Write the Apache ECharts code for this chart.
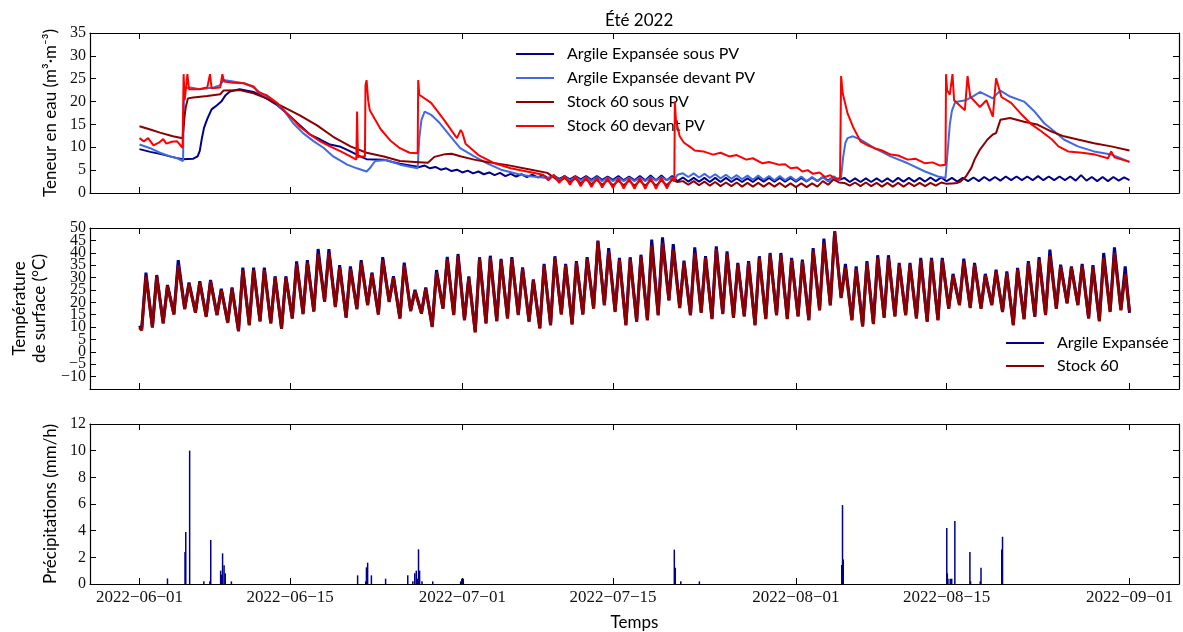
<!DOCTYPE html>
<html><head><meta charset="utf-8">
<script src="https://cdn.jsdelivr.net/npm/echarts@6/dist/echarts.min.js"></script>
<style>html,body{margin:0;padding:0;background:#fff}#c{width:1183px;height:632px}</style>
</head><body><div id="c"></div>
<script>
// x = days since 2022-06-01 00:00
const tickDays = [0, 14, 30, 44, 61, 75, 92];
const tickLabels = ['2022\u221206\u221201','2022\u221206\u221215','2022\u221207\u221201','2022\u221207\u221215','2022\u221208\u221201','2022\u221208\u221215','2022\u221209\u221201'];
const tempTicksA = [-10, 0, 10, 20, 30, 40, 50];
const tempTicksB = [-5, 5, 15, 25, 35, 45];

// Teneur en eau (m3.m-3)
const aeSousPV = [[0,9.6],[1,9.0],[2,8.5],[3,7.9],[4,7.4],[5,7.5],[5.4,8.0],[5.6,9.2],[5.8,12.0],[6.0,14.3],[6.3,16.2],[6.7,18.3],[7.2,19.2],[7.6,20.0],[8.0,21.4],[8.4,22.2],[9.3,22.7],[10.6,22.1],[11.8,20.7],[12.8,19.2],[13.7,17.4],[14.9,14.8],[15.9,12.7],[16.8,11.7],[17.7,10.6],[18.7,10.1],[19.6,9.1],[20.5,8.0],[21.1,7.4],[22.7,7.3],[23.5,6.8],[24.2,6.4],[25,6.1],[26,5.7],[26.5,6.0],[27,5.4],[27.5,5.7],[28,5.1],[28.5,5.4],[29,4.8],[29.5,5.1],[30,4.5],[30.5,4.9],[31,4.3],[31.5,4.7],[32,4.1],[32.5,4.5],[33,3.9],[33.5,4.4],[34,3.7],[34.5,4.2],[35,3.6],[35.5,4.1],[36,3.5],[36.5,4.0],[37,3.4],[37.5,3.9],[38,3.2],[38.5,3.8],[39,3.1],[39.5,3.7],[40,3.0],[40.5,3.7],[41,3.0],[41.5,3.7],[42,2.9],[42.5,3.7],[43,2.9],[43.5,3.6],[44,2.9],[44.5,3.7],[45,2.8],[45.5,3.6],[46,2.8],[46.5,3.7],[47,2.8],[47.5,3.8],[48,2.8],[48.5,3.8],[49,2.8],[49.5,3.7],[50,2.6],[50.5,3.4],[51,2.5],[51.5,3.3],[52,2.5],[52.5,3.3],[53,2.4],[53.5,3.3],[54,2.4],[54.5,3.3],[55,2.4],[55.5,3.2],[56,2.4],[56.5,3.2],[57,2.4],[57.5,3.3],[58,2.5],[58.5,3.3],[59,2.5],[59.5,3.3],[60,2.5],[60.5,3.3],[61,2.5],[61.5,3.3],[62,2.5],[62.5,3.4],[63,2.6],[63.5,3.5],[64,2.7],[64.5,3.6],[65,2.8],[65.5,3.3],[66,2.4],[66.5,3.2],[67,2.4],[67.5,3.2],[68,2.4],[68.5,3.2],[69,2.4],[69.5,3.2],[70,2.4],[70.5,3.3],[71,2.5],[71.5,3.3],[72,2.5],[72.5,3.3],[73,2.5],[73.5,3.4],[74,2.6],[74.5,3.4],[75,2.6],[75.5,3.3],[76,2.5],[76.5,3.3],[77,2.6],[77.5,3.4],[78,2.6],[78.5,3.5],[79,2.7],[79.5,3.5],[80,2.7],[80.5,3.6],[81,2.8],[81.5,3.6],[82,2.8],[82.5,3.6],[83,2.8],[83.5,3.7],[84,2.8],[84.5,3.6],[85,2.8],[85.5,3.6],[86,2.8],[86.5,3.6],[87,2.7],[87.5,3.9],[88,2.7],[88.5,3.5],[89,2.6],[89.5,3.5],[90,2.6],[90.5,3.5],[91,2.7],[91.5,3.4],[92,2.8]];
const aeDevantPV = [[0,10.6],[1,9.8],[1.9,8.8],[3,7.9],[3.5,7.6],[4.05,7.0],[4.12,20.0],[4.2,22.9],[4.7,23.1],[5.6,22.7],[6.9,23.1],[7.5,23.6],[7.8,24.7],[8.7,24.4],[9.7,24.0],[10.6,23.1],[11.5,21.4],[12.5,20.0],[13.4,18.1],[14.3,15.2],[15.2,13.1],[16.2,11.3],[17.1,9.9],[18.0,8.0],[19.3,6.2],[20.2,5.4],[21.1,4.7],[21.4,5.4],[21.9,7.0],[23.0,7.2],[24.2,6.2],[25.0,5.8],[25.85,5.4],[26.0,12.0],[26.2,16.0],[26.5,17.8],[27.1,17.1],[27.9,15.3],[28.9,12.4],[29.8,9.8],[31.1,8.0],[32.3,6.5],[33.6,5.1],[35.4,4.0],[36.5,3.6],[37.9,3.3],[38.5,3.8],[39,2.8],[39.5,3.6],[40,2.7],[40.5,3.5],[41,2.7],[41.5,3.5],[42,2.6],[42.5,3.5],[43,2.6],[43.5,3.4],[44,2.6],[44.5,3.4],[45,2.6],[45.5,3.4],[46,2.6],[46.5,3.4],[47,2.6],[47.5,3.5],[48,2.7],[48.5,3.5],[49,2.8],[49.5,3.4],[49.75,3.0],[50,4.0],[50.5,4.3],[51,3.5],[51.5,4.3],[52,3.4],[52.5,4.2],[53,3.3],[53.5,4.1],[54,3.2],[54.5,4.0],[55,3.1],[55.5,3.9],[56,3.0],[56.5,3.8],[57,2.9],[57.5,3.8],[58,2.9],[58.5,3.7],[59,2.8],[59.5,3.7],[60,2.8],[60.5,3.6],[61,2.7],[61.5,3.6],[62,2.6],[62.5,3.5],[63,2.6],[63.5,3.5],[64,2.5],[64.5,3.6],[65,2.8],[65.2,3.5],[65.4,8.0],[65.6,11.0],[65.8,12.0],[66.3,12.4],[67,11.7],[68.3,9.8],[69.8,8.0],[71.4,6.5],[73,4.7],[74.2,3.6],[74.9,3.3],[75.1,9.0],[75.3,15.0],[75.5,18.0],[75.8,19.9],[76.8,20.3],[77.5,21.2],[78.1,22.1],[79.3,20.7],[79.6,21.5],[80,22.4],[80.9,21.1],[82.2,20.0],[83.1,18.0],[84.1,15.2],[85,13.5],[85.9,11.7],[87.2,10.2],[88.7,9.1],[90.3,8.4],[91,7.8],[92,6.8]];
const s60SousPV = [[0,14.6],[1,13.9],[1.9,13.2],[3.1,12.4],[4.0,12.0],[4.1,12.2],[4.2,17.0],[4.3,18.8],[4.5,20.7],[5,20.9],[6.3,21.2],[7.5,21.6],[7.8,22.4],[9.3,22.5],[10.6,21.8],[11.8,20.7],[13.4,18.8],[14.9,17.0],[16.5,14.8],[18,12.3],[19.6,10.2],[21.1,8.8],[22.7,8.0],[24.2,7.0],[25.6,6.8],[26.8,6.6],[27.4,7.9],[28.4,8.5],[29,8.6],[29.9,8.0],[31.1,7.3],[32.3,6.8],[34.2,6.1],[36.4,5.1],[37.9,4.4],[38.5,3.4],[39,2.5],[39.5,3.3],[40,2.3],[40.5,3.2],[41,2.1],[41.5,3.0],[42,1.9],[42.5,2.9],[43,1.8],[43.5,2.8],[44,1.7],[44.5,2.7],[45,1.7],[45.5,2.7],[46,1.6],[46.5,2.7],[47,1.6],[47.5,2.8],[48,1.6],[48.5,2.8],[49,1.7],[49.5,2.9],[50,2.4],[50.5,2.6],[51,1.8],[51.5,2.6],[52,1.7],[52.5,2.5],[53,1.6],[53.5,2.4],[54,1.5],[54.5,2.3],[55,1.5],[55.5,2.3],[56,1.4],[56.5,2.2],[57,1.4],[57.5,2.2],[58,1.4],[58.5,2.2],[59,1.4],[59.5,2.2],[60,1.3],[60.5,2.1],[61,1.3],[61.5,2.1],[62,1.3],[62.5,2.1],[63,1.4],[63.5,2.6],[64,1.8],[64.5,3.0],[65,2.3],[65.5,2.2],[66,1.6],[66.5,2.3],[67,1.5],[67.5,2.3],[68,1.5],[68.5,2.2],[69,1.4],[69.5,2.2],[70,1.4],[70.5,2.2],[71,1.4],[71.5,2.2],[72,1.5],[72.5,2.2],[73,1.5],[73.5,2.2],[74,1.6],[74.5,2.3],[75,2.0],[75.5,2.1],[76,2.2],[76.3,2.5],[76.8,3.6],[77.3,5.5],[77.6,7.3],[78.1,9.5],[78.8,11.7],[79.3,12.8],[79.6,13.1],[80,16.0],[80.9,16.4],[82.2,15.6],[83.4,15.0],[84.7,13.5],[85.9,12.4],[87.2,11.7],[88.7,10.9],[90.3,10.2],[92,9.3]];
const s60DevantPV = [[0,12.0],[0.4,11.3],[0.8,12.0],[1.3,10.4],[1.8,11.0],[2.2,11.8],[2.5,10.8],[3.0,11.2],[3.5,11.3],[4.0,9.9],[4.1,26.0],[4.2,20.3],[4.35,23.6],[4.45,26.0],[4.6,22.7],[5.5,22.7],[6.3,23.1],[6.55,26.0],[6.7,22.9],[7.5,23.1],[7.7,26.0],[7.85,24.4],[8.7,24.1],[9.7,24.0],[10.6,23.3],[11.0,22.1],[11.8,21.4],[12.8,19.7],[13.7,17.4],[14.3,16.0],[14.9,14.5],[15.9,12.7],[16.8,11.3],[17.7,10.2],[18.7,9.1],[19.6,8.0],[20.15,7.3],[20.22,17.8],[20.3,7.8],[20.5,8.0],[20.95,8.0],[21.0,23.6],[21.1,24.7],[21.25,20.3],[21.4,18.1],[22.4,14.0],[23.3,11.5],[24.2,9.8],[25.1,8.8],[25.85,8.7],[25.9,24.7],[26.0,21.5],[27.1,19.7],[28.3,16.0],[29.5,12.0],[29.85,13.8],[30.0,13.2],[30.3,10.8],[31.5,8.3],[33,6.5],[34.5,5.4],[36,4.7],[37.5,4.0],[38,2.8],[38.5,4.0],[39,2.2],[39.5,3.8],[40,1.8],[40.5,3.6],[41,1.5],[41.5,3.5],[42,1.3],[42.5,3.4],[43,1.2],[43.5,3.3],[44,1.1],[44.5,3.3],[45,1.0],[45.5,3.2],[46,0.9],[46.5,3.3],[47,0.9],[47.5,3.4],[48,0.9],[48.5,3.4],[49,1.0],[49.5,3.3],[49.7,2.5],[49.75,20.0],[49.85,16.0],[50.2,12.4],[50.6,11.0],[51.1,10.2],[51.6,9.3],[52.4,9.1],[53.3,8.4],[54,8.8],[54.8,8.0],[55.5,8.3],[56.4,7.3],[57,7.6],[57.9,6.5],[58.5,6.8],[59.4,6.2],[60,6.3],[60.5,5.4],[61.1,5.6],[61.6,4.7],[62.1,5.0],[62.6,4.2],[63.2,4.5],[63.7,3.5],[64.2,3.9],[64.7,3.0],[65.1,3.3],[65.2,25.6],[65.35,21.8],[65.8,17.4],[66.3,14.5],[67,11.3],[67.6,10.5],[68.3,9.8],[69,9.3],[69.8,8.4],[70.5,8.2],[71.4,7.3],[72.1,7.5],[73,6.5],[73.7,6.7],[74.4,6.0],[74.9,6.2],[74.95,26.0],[75.05,22.5],[75.3,21.5],[75.55,26.0],[75.7,20.3],[76.7,18.1],[76.95,25.6],[77.2,21.1],[78.1,18.8],[78.7,20.3],[79.3,16.7],[79.6,25.1],[80.1,21.0],[81,19.7],[82,17.1],[82.9,15.0],[83.8,13.5],[84.8,11.7],[85.4,10.2],[86.3,9.1],[87.6,8.8],[88.8,8.4],[90,7.6],[90.3,9.1],[90.6,7.8],[92,6.8]];

// Température de surface: daily minimum (early morning) and maximum (afternoon), days 0..91
const tMinAE  = [9,10,11.7,15.3,17.5,16,14.4,15,12,8.6, 11,12.5,11.7,9.6,13.7,15.5,16.5,20.5,18.4,14, 17.5,19.1,15.3,20.4,13.7,16.7,15.7,10.3,17.7,15.1, 13,8.1,11.7,12.6,13.7,15.1,12.4,9.7,11,15.3, 11.3,15.3,17.7,19.1,16.4,11,12.4,13,15,21, 18,15,16,13.5,15.5,14,14.5,11,13.5,15, 13.5,14.5,13,17,19,22,13,10.5,11.5,14, 14.5,15,13.7,12.4,13,17.7,19.1,18,17.7,19.1, 16.4,11,13.4,14.4,15.1,17.7,19.8,19.1,13.7,12.6, 16.4,17.1];
const tMaxAE  = [32,31,27,37,28,28.5,29,25.5,26,34, 34,34,30.5,30.5,36.5,37,41.5,41.5,35,34.5, 37,32,38.2,30.5,36,25,26,33,38.3,39.5, 30.5,38.2,38.8,37.5,38.2,34.1,29.2,35.5,38.6,35.5, 36.6,38.2,44.9,41.9,37.9,38.2,39.2,45.3,46.2,43.5, 36.8,42.2,38.6,42.6,40.6,35.9,36.6,38.6,39.9,39.9, 37.9,37.2,41.9,45.7,48.7,35.5,34.5,36.6,39,39, 35.9,35.9,37.9,37.9,37.9,31.5,37.6,35.9,31.5,33.2, 32.5,33.9,36.6,38.2,41.3,35.2,34.5,35.5,35,39.9, 42.2,34.5];
const tMinS60 = [8.7,9.8,11.4,15,17.2,15.8,14.1,14.8,11.7,8.3, 10.7,12.2,11.4,9.3,13.4,15.2,16.2,20.2,18.1,13.7, 17.2,18.8,15,20.1,13.4,16.4,15.4,10,17.4,14.8, 12.7,7.8,11.4,12.3,13.4,14.8,12.1,9.4,10.7,15, 11,15,17.4,18.8,16.1,10.7,12.1,12.7,14.7,20.7, 17.7,14.7,15.7,13.2,15.2,13.7,14.2,10.7,13.2,14.7, 13.2,14.2,12.7,16.7,18.7,21.7,12.7,10.2,11.2,13.7, 14.2,14.7,13.4,12.1,12.7,17.4,18.8,17.7,17.4,18.8, 16.1,10.7,13.1,14.1,14.8,17.4,19.5,18.8,13.4,12.3, 16.1,16.8];
const tMaxS60 = [30.5,30.5,26.5,35,27.5,28,28.5,25,25.5,33, 33,33,30,30,35.5,36,39.5,40,34,33.5, 36,31.5,37.2,30,35,24.5,25.5,32,37.3,38.5, 30,37.5,38,36.8,37.5,33.5,28.8,34.8,37.8,35, 36,37.5,44.5,40.6,37.2,37.5,38.5,43,44,41.3, 36,39.9,38,41.5,39.5,35.2,36,37.8,39.2,39.2, 37.2,36.5,40.8,44,48.5,33.8,33.5,35.8,37.8,38, 35.2,35.2,37,37.2,37.2,30.8,36.5,35.2,30.8,32.5, 31.8,33.2,35.8,37.2,38.8,34.5,33.8,34.8,34.2,37.9, 39.9,31.5];
const tStartEnd = {ae: [10.5, 15.7], s60: [9.8, 16.3]};

// Précipitations (mm/h): [day, value]
const precip = [[2.6,0.42],[4.23,2.4],[4.3,3.9],[4.66,10],[5.98,0.2],[6.54,0.2],[6.62,3.3],[7.54,1.0],[7.61,0.7],[7.72,2.3],[7.86,1.4],[7.97,0.8],[8.54,0.2],[20.27,0.65],[21.02,0.2],[21.09,1.25],[21.2,1.6],[21.55,0.65],[22.87,0.4],[24.93,0.65],[25.4,0.2],[25.58,0.8],[25.72,1.0],[25.82,0.4],[25.93,2.6],[26.03,1.0],[26.25,0.2],[27.25,0.2],[29.84,0.2],[29.95,0.4],[30.09,0.4],[49.7,2.58],[49.79,1.22],[50.3,0.2],[52.03,0.2],[65.26,1.42],[65.33,5.92],[65.4,1.84],[75.02,4.2],[75.07,0.8],[75.13,0.4],[75.34,0.4],[75.48,0.4],[75.77,4.73],[77.17,2.4],[77.23,0.2],[78.13,0.2],[78.2,1.22],[80.13,2.58],[80.2,3.54]];

function dailyCurve(mins, maxs, startEnd) {
  const pts = [[0, startEnd[0]]];
  for (let d = 0; d < mins.length; d++) {
    pts.push([d + 0.2, mins[d]]);
    pts.push([d + 0.6, maxs[d]]);
  }
  pts.push([92, startEnd[1]]);
  return pts;
}

const SERIF = 'Liberation Serif';
const SANS = 'Lato';
const XMIN = -4.6, XMAX = 96.6;
const grids = [
  {left: 90, right: 4, top: 33, height: 160},
  {left: 90, right: 4, top: 228, height: 161},
  {left: 90, right: 4, top: 424, height: 162}
];
const lineAx = {show: true, onZero: false, lineStyle: {color: '#000', width: 1.2}};
const numFmt = v => (v < 0 ? '\u2212' + Math.abs(v) : String(v));
const xAxes = [], yAxes = [];
const yCfg = [
  {min: 0, max: 35, interval: 5, name: 'Teneur en eau (m\u00b3\u00b7m\u207b\u00b3)', gap: 29, custom: null},
  {min: -15, max: 50, interval: 5, name: 'Temp\u00e9rature\nde surface (\u00b0C)', gap: 40, custom: tempTicksA},
  {min: 0, max: 12, interval: 2, name: 'Pr\u00e9cipitations (mm/h)', gap: 29, custom: null}
];
for (let i = 0; i < 3; i++) {
  ['bottom', 'top'].forEach(pos => {
    const showLab = (i === 2 && pos === 'bottom');
    xAxes.push({
      type: 'value', gridIndex: i, position: pos, min: XMIN, max: XMAX,
      axisLine: lineAx,
      axisTick: {show: true, inside: true, length: 6, customValues: tickDays, lineStyle: {color: '#000', width: 1}},
      axisLabel: {show: showLab, customValues: tickDays, margin: 5,
        formatter: v => tickLabels[tickDays.indexOf(Math.round(v))] || '',
        fontFamily: SERIF, fontSize: 17, color: '#111'},
      splitLine: {show: false},
      name: showLab ? 'Temps' : '', nameLocation: 'middle', nameGap: 30, nameMoveOverlap: false,
      nameTextStyle: {fontFamily: SANS, fontSize: 17, color: '#000'}
    });
  });
  ['left', 'right'].forEach(pos => {
    const c = yCfg[i];
    const left = pos === 'left';
    const lab = {show: left, hideOverlap: false, margin: 4,
        fontFamily: SERIF, fontSize: 16, color: '#111', formatter: numFmt};
    if (c.custom) lab.customValues = c.custom;
    yAxes.push({
      type: 'value', gridIndex: i, position: pos, min: c.min, max: c.max, interval: c.interval,
      axisLine: lineAx,
      axisTick: {show: true, inside: true, length: 6, lineStyle: {color: '#000', width: 1}},
      axisLabel: lab,
      splitLine: {show: false},
      name: left ? c.name : '', nameLocation: 'middle', nameGap: c.gap, nameRotate: 90, nameMoveOverlap: false,
      nameTextStyle: {fontFamily: SANS, fontSize: 17, color: '#000', lineHeight: 20}
    });
  });
}
// second label set for the crowded temperature axis (odd multiples of 5)
yAxes.push({
  type: 'value', gridIndex: 1, position: 'left', min: -15, max: 50, interval: 5,
  axisLine: {show: false}, axisTick: {show: false}, splitLine: {show: false},
  axisLabel: {show: true, customValues: tempTicksB, hideOverlap: false, margin: 4,
    fontFamily: SERIF, fontSize: 16, color: '#111', formatter: numFmt}
});

function lineSeries(name, data, color, width, xi, yi, z) {
  return {name, type: 'line', data, xAxisIndex: xi, yAxisIndex: yi, showSymbol: false, symbol: 'none',
    lineStyle: {color, width}, itemStyle: {color}, z, animation: false, sampling: null};
}

const series = [
  lineSeries('Argile Expans\u00e9e sous PV', aeSousPV, '#00008B', 2, 0, 0, 2),
  lineSeries('Argile Expans\u00e9e devant PV', aeDevantPV, '#4169E1', 2, 0, 0, 3),
  lineSeries('Stock 60 sous PV', s60SousPV, '#8B0000', 2, 0, 0, 4),
  lineSeries('Stock 60 devant PV', s60DevantPV, '#FF0000', 2, 0, 0, 5),
  lineSeries('Argile Expans\u00e9e', dailyCurve(tMinAE, tMaxAE, tStartEnd.ae), '#00008B', 3, 2, 2, 2),
  lineSeries('Stock 60', dailyCurve(tMinS60, tMaxS60, tStartEnd.s60), '#8B0000', 3, 2, 2, 3),
  {name: 'Pr\u00e9cipitations', type: 'bar', data: precip, xAxisIndex: 4, yAxisIndex: 4,
   barWidth: 1.5, itemStyle: {color: '#00008B'}, animation: false}
];

const legendText = {fontFamily: SANS, fontSize: 16, color: '#000', padding: [0, 0, 0, 8]};
const option = {
  backgroundColor: '#fff',
  animation: false,
  title: {text: '\u00c9t\u00e9 2022', left: 600, top: 7,
    textStyle: {fontFamily: SANS, fontSize: 17, fontWeight: 'normal', color: '#000'}},
  grid: grids,
  xAxis: xAxes,
  yAxis: yAxes,
  legend: [
    {data: ['Argile Expans\u00e9e sous PV', 'Argile Expans\u00e9e devant PV', 'Stock 60 sous PV', 'Stock 60 devant PV'],
     orient: 'vertical', left: 515, top: 46, padding: 0, itemWidth: 38, itemHeight: 14, itemGap: 8,
     itemStyle: {opacity: 0}, textStyle: legendText},
    {data: ['Argile Expans\u00e9e', 'Stock 60'],
     orient: 'vertical', left: 1005, top: 335, padding: 0, itemWidth: 38, itemHeight: 14, itemGap: 7,
     itemStyle: {opacity: 0}, textStyle: legendText}
  ],
  series
};
const chart = echarts.init(document.getElementById('c'), null, {renderer: 'canvas'});
chart.setOption(option);
</script></body></html>
